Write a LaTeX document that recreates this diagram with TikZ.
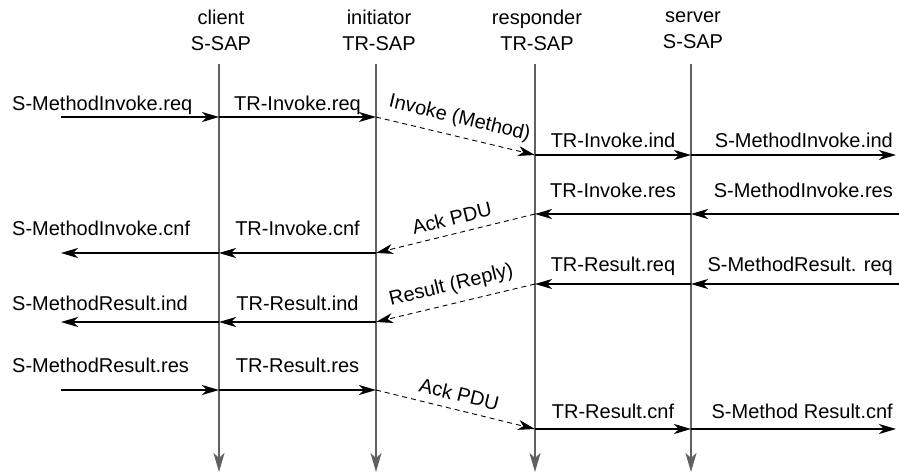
\documentclass[tikz,border=0pt]{standalone}
\usepackage{fontspec}
\setmainfont{Liberation Sans}
\usetikzlibrary{arrows.meta}
\begin{document}
\begin{tikzpicture}[x=1pt,y=-1pt,
  lbl/.style={font=\fontsize{20}{26}\selectfont, inner sep=0pt},
  hdr/.style={lbl, align=center},
  tip/.style={-{Stealth[length=17pt,width=10pt,inset=5pt]}},
  life/.style={draw=black!62, line width=1.8pt, -{Stealth[length=19pt,width=11pt,inset=5pt]}},
  msg/.style={tip, line width=1.3pt},
  pdu/.style={tip, line width=0.9pt, dash pattern=on 5pt off 4pt},
  pdulbl/.style={lbl, midway, sloped, above=8pt}]
\useasboundingbox (0,0) rectangle (899,474);
% headers
\node[hdr] (hc) at (221,30) {client\\S-SAP};
\node[hdr] (hi) at (379,30) {initiator\\TR-SAP};
\node[hdr] (hr) at (537,30) {responder\\TR-SAP};
\node[hdr] (hs) at (693,30) {server\\S-SAP};
% lifelines
\coordinate (cT) at (219,64);  \coordinate (cB) at (219,472);
\coordinate (iT) at (376,64);  \coordinate (iB) at (376,472);
\coordinate (rT) at (535,64);  \coordinate (rB) at (535,472);
\coordinate (sT) at (691,64);  \coordinate (sB) at (691,472);
\draw[life] (cT) -- (cB);
\draw[life] (iT) -- (iB);
\draw[life] (rT) -- (rB);
\draw[life] (sT) -- (sB);
% event points
\coordinate (L1) at (61,117);  \coordinate (C1) at (219,117); \coordinate (I1) at (376,117);
\coordinate (R1) at (535,155); \coordinate (S1) at (691,155); \coordinate (E1) at (896,155);
\coordinate (E2) at (899,214); \coordinate (S2) at (691,214); \coordinate (R2) at (535,214);
\coordinate (I3) at (376,253); \coordinate (C3) at (219,253); \coordinate (L3) at (61,253);
\coordinate (E4) at (899,284); \coordinate (S4) at (691,284); \coordinate (R4) at (535,284);
\coordinate (I5) at (376,322); \coordinate (C5) at (219,322); \coordinate (L5) at (61,322);
\coordinate (L6) at (61,390);  \coordinate (C6) at (219,390); \coordinate (I6) at (376,390);
\coordinate (R7) at (535,429); \coordinate (S7) at (691,429); \coordinate (E7) at (896,429);
% row 1
\draw[msg] (L1) -- (C1);
\draw[msg] (C1) -- (I1);
\draw[pdu] (I1) -- node[pdulbl] (p1) {Invoke (Method)} (R1);
\draw[msg] (R1) -- (S1);
\draw[msg] (S1) -- (E1);
\node[lbl, anchor=base west] (t1a) at (12,110) {S-MethodInvoke.req};
\node[lbl, anchor=base] (t1b) at (297.5,110) {TR-Invoke.req};
\node[lbl, anchor=base] (t1c) at (613,147) {TR-Invoke.ind};
\node[lbl, anchor=base east] (t1d) at (893,147) {S-MethodInvoke.ind};
% row 2
\draw[msg] (E2) -- (S2);
\draw[msg] (S2) -- (R2);
\draw[pdu] (R2) -- node[pdulbl] (p2) {Ack PDU} (I3);
\draw[msg] (I3) -- (C3);
\draw[msg] (C3) -- (L3);
\node[lbl, anchor=base] (t2a) at (613,197) {TR-Invoke.res};
\node[lbl, anchor=base east] (t2b) at (893,197) {S-MethodInvoke.res};
\node[lbl, anchor=base west] (t3a) at (12,235) {S-MethodInvoke.cnf};
\node[lbl, anchor=base] (t3b) at (297.5,235) {TR-Invoke.cnf};
% row 3
\draw[msg] (E4) -- (S4);
\draw[msg] (S4) -- (R4);
\draw[pdu] (R4) -- node[pdulbl] (p3) {Result (Reply)} (I5);
\draw[msg] (I5) -- (C5);
\draw[msg] (C5) -- (L5);
\node[lbl, anchor=base] (t4a) at (613,271) {TR-Result.req};
\node[lbl, anchor=base east] (t4b) at (893,271) {S-MethodResult. req};
\node[lbl, anchor=base west] (t5a) at (12,310) {S-MethodResult.ind};
\node[lbl, anchor=base] (t5b) at (297.5,310) {TR-Result.ind};
% row 4
\draw[msg] (L6) -- (C6);
\draw[msg] (C6) -- (I6);
\draw[pdu] (I6) -- node[pdulbl] (p4) {Ack PDU} (R7);
\draw[msg] (R7) -- (S7);
\draw[msg] (S7) -- (E7);
\node[lbl, anchor=base west] (t6a) at (12,372) {S-MethodResult.res};
\node[lbl, anchor=base] (t6b) at (297.5,372) {TR-Result.res};
\node[lbl, anchor=base] (t7a) at (613,418) {TR-Result.cnf};
\node[lbl, anchor=base east] (t7b) at (893,418) {S-Method Result.cnf};
\end{tikzpicture}
\end{document}
